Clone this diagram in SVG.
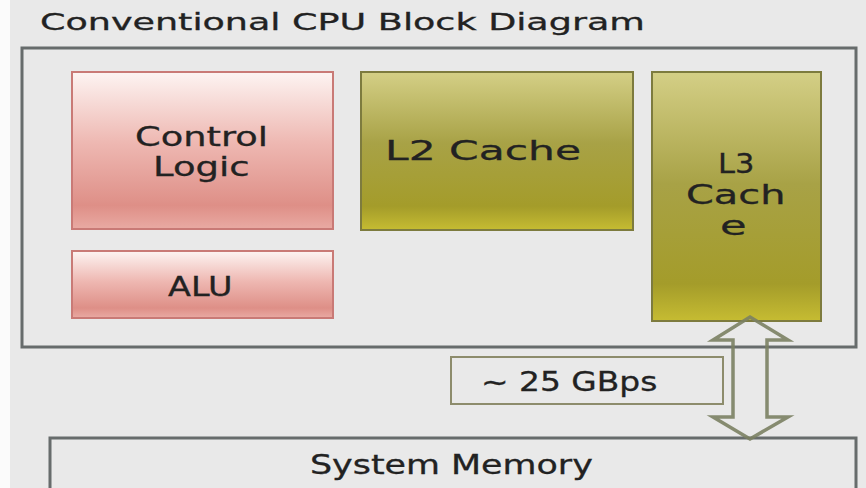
<svg xmlns="http://www.w3.org/2000/svg" width="866" height="488" viewBox="0 0 866 488">
  <defs>
    <linearGradient id="pink" x1="0" y1="0" x2="0" y2="1">
      <stop offset="0" stop-color="#fdf4f2"/>
      <stop offset="0.45" stop-color="#eeb8b2"/>
      <stop offset="0.85" stop-color="#de8f87"/>
      <stop offset="1" stop-color="#e9aaa3"/>
    </linearGradient>
    <linearGradient id="olive" x1="0" y1="0" x2="0" y2="1">
      <stop offset="0" stop-color="#d4cf86"/>
      <stop offset="0.45" stop-color="#a8a246"/>
      <stop offset="0.85" stop-color="#a49c2a"/>
      <stop offset="1" stop-color="#c6bc32"/>
    </linearGradient>
    <style>
      .frame { fill: none; stroke: #676c6c; stroke-width: 3; }
      .logic { fill: url(#pink); stroke: #c97a76; stroke-width: 2; }
      .cache { fill: url(#olive); stroke: #7d7b3e; stroke-width: 2; }
      .label { font-family: "DejaVu Sans", "Liberation Sans", sans-serif; font-size: 26px; fill: #222222; stroke: #222222; stroke-width: 0.3; }
      .title { font-size: 23px; }
      .rate { fill: none; stroke: #8d8c6c; stroke-width: 2; }
      .bus { fill: none; stroke: #7b8163; stroke-width: 3.5; stroke-linejoin: miter; opacity: 0.9; }
    </style>
  </defs>

  <!-- page -->
  <rect x="0" y="0" width="866" height="488" fill="#e9e9e9"/>
  <rect x="0" y="0" width="10" height="488" fill="#fbfbfb"/>

  <!-- all labels use a wide face: glyphs are stretched 1.4x horizontally -->
  <text class="label title" transform="translate(40 30) scale(1.4 1)" textLength="432" lengthAdjust="spacingAndGlyphs">Conventional CPU Block Diagram</text>

  <!-- CPU frame -->
  <g id="cpu">
    <rect class="frame" x="22" y="48" width="834" height="299"/>
  </g>

  <g id="control-logic">
    <rect class="logic" x="72" y="72" width="261" height="157"/>
    <text class="label" transform="translate(135 146) scale(1.4 1)" textLength="95" lengthAdjust="spacingAndGlyphs">Control</text>
    <text class="label" transform="translate(153 176) scale(1.4 1)" textLength="69" lengthAdjust="spacingAndGlyphs">Logic</text>
  </g>

  <g id="alu">
    <rect class="logic" x="72" y="251" width="261" height="67"/>
    <text class="label" transform="translate(168 296) scale(1.4 1)" textLength="46" lengthAdjust="spacingAndGlyphs">ALU</text>
  </g>

  <g id="l2-cache">
    <rect class="cache" x="361" y="72" width="272" height="158"/>
    <text class="label" transform="translate(385 160) scale(1.4 1)" textLength="140" lengthAdjust="spacingAndGlyphs">L2 Cache</text>
  </g>

  <g id="l3-cache">
    <rect class="cache" x="652" y="72" width="169" height="249"/>
    <text class="label" transform="translate(718 173) scale(1.4 1)" textLength="26" lengthAdjust="spacingAndGlyphs">L3</text>
    <text class="label" transform="translate(686 204) scale(1.4 1)" textLength="71" lengthAdjust="spacingAndGlyphs">Cach</text>
    <text class="label" transform="translate(720 235) scale(1.4 1)" textLength="19" lengthAdjust="spacingAndGlyphs">e</text>
  </g>

  <g id="bandwidth">
    <rect class="rate" x="451" y="357" width="272" height="47"/>
    <text class="label" transform="translate(481 391) scale(1.4 1)" textLength="126" lengthAdjust="spacingAndGlyphs">~ 25 GBps</text>
  </g>

  <g id="system-memory">
    <path class="frame" d="M50 500 V438 H856 V500"/>
    <text class="label" transform="translate(310 474) scale(1.4 1)" textLength="202" lengthAdjust="spacingAndGlyphs">System Memory</text>
  </g>

  <!-- memory bus -->
  <g id="connectors">
    <path class="bus" d="M750 317 L788 340 L767 340 L767 417 L788 417 L750 439 L713 417 L733 417 L733 340 L713 340 Z"/>
  </g>
</svg>
